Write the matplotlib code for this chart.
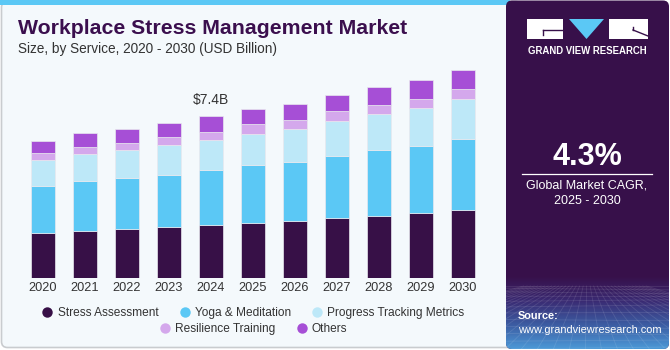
import numpy as np
import matplotlib
matplotlib.use("Agg")
import matplotlib.pyplot as plt
from matplotlib.patches import FancyBboxPatch, Rectangle, Polygon
from matplotlib.lines import Line2D
from matplotlib.colors import LinearSegmentedColormap

plt.rcParams['font.family'] = ['Liberation Sans', 'DejaVu Sans']

years = ['2020', '2021', '2022', '2023', '2024', '2025', '2026', '2027', '2028', '2029', '2030']
stress_assessment = [2.06, 2.18, 2.24, 2.34, 2.43, 2.55, 2.61, 2.75, 2.87, 2.98, 3.13]
yoga_meditation = [2.17, 2.28, 2.34, 2.41, 2.55, 2.64, 2.72, 2.87, 3.01, 3.08, 3.26]
progress_tracking = [1.18, 1.25, 1.28, 1.35, 1.37, 1.43, 1.50, 1.59, 1.63, 1.73, 1.80]
resilience_training = [0.32, 0.32, 0.33, 0.35, 0.37, 0.43, 0.41, 0.43, 0.44, 0.44, 0.47]
others = [0.56, 0.61, 0.63, 0.66, 0.69, 0.69, 0.73, 0.76, 0.80, 0.84, 0.88]

series_names = ['Stress Assessment', 'Yoga & Meditation', 'Progress Tracking Metrics',
                'Resilience Training', 'Others']
series = [stress_assessment, yoga_meditation, progress_tracking, resilience_training, others]
colors = ['#371047', '#5BC8F5', '#BDE8F8', '#D4A8EC', '#A64FD6']

annot_year = '2024'
annot_text = '$7.4B'
cagr_text = '4.3%'

W, H = 670, 350
fig = plt.figure(figsize=(W / 100, H / 100), dpi=100)
fig.patch.set_facecolor('white')

bg = fig.add_axes([0, 0, 1, 1], zorder=0)
bg.set_xlim(0, W)
bg.set_ylim(H, 0)
bg.axis('off')

# left panel
bg.add_patch(FancyBboxPatch((1.5, 1.5), 520, 346, boxstyle='round,pad=0,rounding_size=6',
                            facecolor='#F4F9FC', edgecolor='#C9CCCF', linewidth=1.2))
bg.add_patch(Rectangle((0, 0), 510, 4.5, facecolor='#5BC8F5', edgecolor='none'))

# right panel
bg.add_patch(FancyBboxPatch((506, 0.5), 163, 348.5, boxstyle='round,pad=0,rounding_size=6',
                            facecolor='#37104A', edgecolor='none'))
grad = np.linspace(0, 1, 100)[:, None]
cmap = LinearSegmentedColormap.from_list('g', ['#37104A', '#3A2A72', '#3C5CA2', '#4C98D6'])
im = bg.imshow(grad, extent=(506, 669, 349, 276), cmap=cmap, aspect='auto', zorder=1)
clip = FancyBboxPatch((506, 0.5), 163, 348.5, boxstyle='round,pad=0,rounding_size=6',
                      facecolor='none', edgecolor='none', transform=bg.transData)
bg.add_patch(clip)
im.set_clip_path(clip)
for i in range(-10, 26):
    x0 = 506 + i * 10
    ln, = bg.plot([587 + (x0 - 587) * 0.35, x0 + (x0 - 587) * 0.6], [286, 349],
                  color='white', alpha=0.11, lw=0.6, zorder=2)
    ln.set_clip_path(clip)
for k in range(12):
    y = 286 + (k / 11) ** 1.4 * 63
    ln, = bg.plot([506, 669], [y, y + 2 * np.sin(k)], color='white', alpha=0.11, lw=0.6, zorder=2)
    ln.set_clip_path(clip)

# logo
bg.add_patch(Rectangle((527, 19), 36, 20, facecolor='white', edgecolor='none', zorder=3))
bg.plot([543, 563], [30, 30], color='#37104A', lw=1.0, zorder=4)
bg.plot([543, 543], [30, 35], color='#37104A', lw=1.0, zorder=4)
bg.add_patch(Polygon([[569, 19], [604, 19], [586.5, 39]], closed=True, facecolor='#5BC8F5',
                     edgecolor='none', zorder=3))
bg.add_patch(Rectangle((609, 19), 39, 20, facecolor='white', edgecolor='none', zorder=3))
bg.plot([633, 648], [30, 36], color='#37104A', lw=1.0, zorder=4)
bg.plot([633, 633], [27, 30], color='#37104A', lw=1.0, zorder=4)
bg.text(587.5, 51, 'GRAND VIEW RESEARCH', color='white', fontsize=6.9, fontweight='bold',
        ha='center', va='center', zorder=4)

# CAGR block
bg.text(587, 157, cagr_text, color='white', fontsize=22, fontweight='bold',
        ha='center', va='center', zorder=4)
bg.plot([522, 652], [173.5, 173.5], color='white', lw=0.9, zorder=4)
bg.text(587, 185.5, 'Global Market CAGR,', color='white', fontsize=9,
        ha='center', va='center', zorder=4)
bg.text(587, 201, '2025 - 2030', color='white', fontsize=9,
        ha='center', va='center', zorder=4)

# source
bg.text(518, 316, 'Source:', color='white', fontsize=7.9, fontweight='bold',
        ha='left', va='center', zorder=4)
bg.text(518, 330, 'www.grandviewresearch.com', color='white', fontsize=7.9,
        ha='left', va='center', zorder=4)

# titles
bg.text(18, 28, 'Workplace Stress Management Market', color='#3B0F4E', fontsize=15.3,
        fontweight='bold', ha='left', va='center', zorder=4)
bg.text(18, 48.5, 'Size, by Service, 2020 - 2030 (USD Billion)', color='#333333', fontsize=9.8,
        ha='left', va='center', zorder=4)

# bar axes
left_px, right_px = 22, 484
base_px, top_px = 278.3, 59.9
ax = fig.add_axes([left_px / W, (H - base_px) / H, (right_px - left_px) / W, (base_px - top_px) / H],
                  zorder=2)
ax.patch.set_alpha(0)
x = np.arange(len(years))
bottom = np.zeros(len(years))
for vals, col, name in zip(series, colors, series_names):
    ax.bar(x, vals, width=0.57, bottom=bottom, color=col, edgecolor='#E8E8EE',
           linewidth=0.5, label=name)
    bottom = bottom + np.array(vals)
ax.set_xlim(-0.5, len(years) - 0.5)
ax.set_ylim(0, (base_px - top_px) / 21.84)
ax.set_xticks(x)
ax.set_xticklabels(years, fontsize=9.2, color='#333333')
ax.tick_params(axis='x', length=0, pad=3)
ax.set_yticks([])
for s in ax.spines.values():
    s.set_visible(False)

i = years.index(annot_year)
ax.annotate(annot_text, (x[i], bottom[i]), xytext=(0, 12), textcoords='offset points',
            ha='center', va='center', fontsize=10, color='#333333')

# legend
handles = [Line2D([0], [0], marker='o', linestyle='none', markersize=7.5,
                  markerfacecolor=c, markeredgecolor='none') for c in colors]
fig.legend(handles[:3], series_names[:3], loc='center', bbox_to_anchor=(253 / W, (H - 313) / H),
           ncol=3, frameon=False, fontsize=8.6, handletextpad=0.35, columnspacing=1.7,
           handlelength=1.0, labelcolor='#333333')
fig.legend(handles[3:], series_names[3:], loc='center', bbox_to_anchor=(253 / W, (H - 329) / H),
           ncol=2, frameon=False, fontsize=8.6, handletextpad=0.35, columnspacing=1.7,
           handlelength=1.0, labelcolor='#333333')

fig.savefig('out.png', dpi=100, facecolor='white')
